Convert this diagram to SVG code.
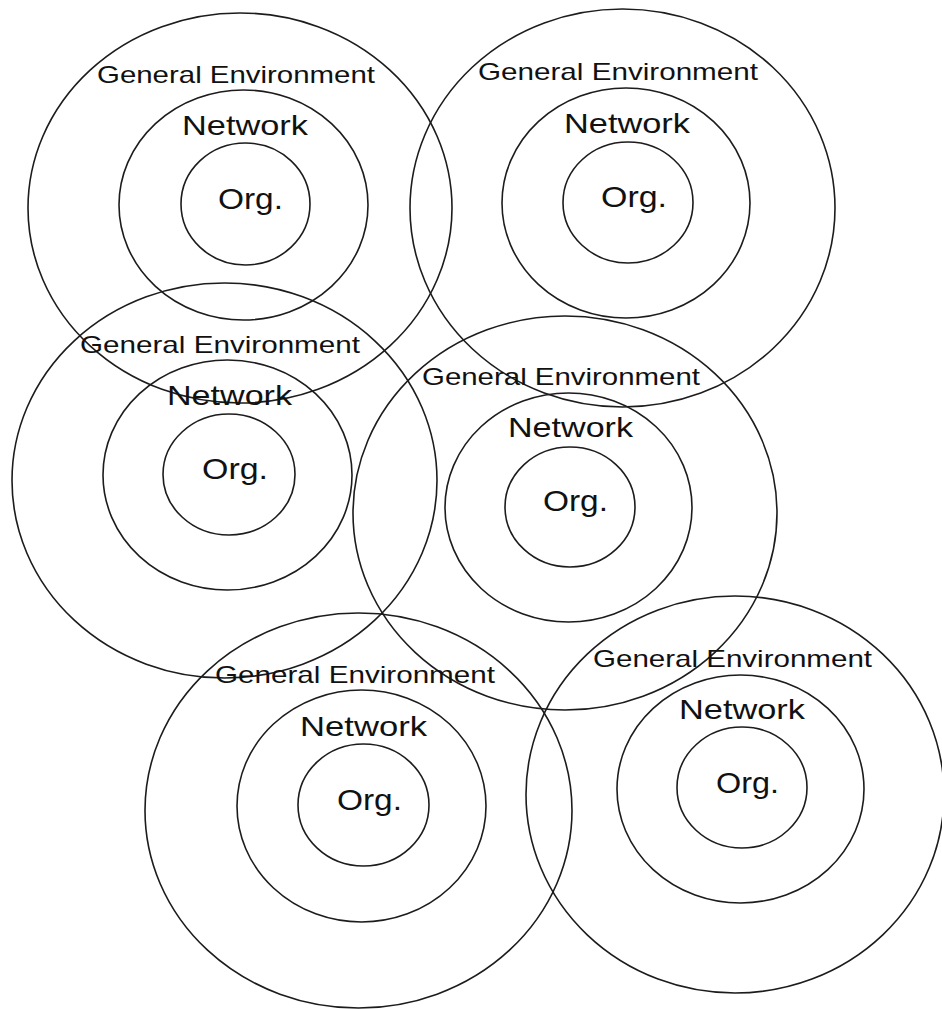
<svg xmlns="http://www.w3.org/2000/svg" width="942" height="1009" viewBox="0 0 942 1009">
<style>
  .ring { fill: none; stroke: #1c1c1c; stroke-width: 1.6; }
  .ge { font-family: "Liberation Sans", Arial, sans-serif; font-size: 24px; fill: #111; }
  .net { font-family: "Liberation Sans", Arial, sans-serif; font-size: 28px; fill: #111; }
  .org { font-family: "Liberation Sans", Arial, sans-serif; font-size: 30px; fill: #111; }
</style>
<rect width="942" height="1009" fill="#ffffff"/>
<g id="node-1">
  <ellipse class="ring" cx="240" cy="208" rx="212" ry="195"/>
  <ellipse class="ring" cx="243.5" cy="205" rx="124.5" ry="115"/>
  <ellipse class="ring" cx="245.5" cy="204" rx="64.5" ry="61"/>
  <text class="ge" x="97" y="83" textLength="278" lengthAdjust="spacingAndGlyphs">General Environment</text>
  <text class="net" x="182" y="135" textLength="126" lengthAdjust="spacingAndGlyphs">Network</text>
  <text class="org" x="218" y="209" textLength="65" lengthAdjust="spacingAndGlyphs">Org.</text>
</g>
<g id="node-2">
  <ellipse class="ring" cx="622.5" cy="208" rx="212.5" ry="199"/>
  <ellipse class="ring" cx="626" cy="203" rx="124" ry="115"/>
  <ellipse class="ring" cx="628" cy="202.5" rx="65" ry="60.5"/>
  <text class="ge" x="478" y="80" textLength="280" lengthAdjust="spacingAndGlyphs">General Environment</text>
  <text class="net" x="564" y="133" textLength="126" lengthAdjust="spacingAndGlyphs">Network</text>
  <text class="org" x="601" y="207" textLength="66" lengthAdjust="spacingAndGlyphs">Org.</text>
</g>
<g id="node-3">
  <ellipse class="ring" cx="224.5" cy="480.5" rx="212.5" ry="197.5"/>
  <ellipse class="ring" cx="227.5" cy="475" rx="124.5" ry="115"/>
  <ellipse class="ring" cx="229" cy="474.5" rx="66" ry="60.5"/>
  <text class="ge" x="80" y="353" textLength="280" lengthAdjust="spacingAndGlyphs">General Environment</text>
  <text class="net" x="167" y="405" textLength="125" lengthAdjust="spacingAndGlyphs">Network</text>
  <text class="org" x="202" y="479" textLength="66" lengthAdjust="spacingAndGlyphs">Org.</text>
</g>
<g id="node-4">
  <ellipse class="ring" cx="565" cy="513" rx="212" ry="197"/>
  <ellipse class="ring" cx="568.5" cy="507.5" rx="123.5" ry="114.5"/>
  <ellipse class="ring" cx="570" cy="507" rx="65" ry="60"/>
  <text class="ge" x="422" y="385" textLength="278" lengthAdjust="spacingAndGlyphs">General Environment</text>
  <text class="net" x="508" y="437" textLength="125" lengthAdjust="spacingAndGlyphs">Network</text>
  <text class="org" x="543" y="511" textLength="65" lengthAdjust="spacingAndGlyphs">Org.</text>
</g>
<g id="node-5">
  <ellipse class="ring" cx="358.5" cy="810.5" rx="213.5" ry="197.5"/>
  <ellipse class="ring" cx="361.5" cy="806" rx="124.5" ry="116"/>
  <ellipse class="ring" cx="363.5" cy="805" rx="65.5" ry="61"/>
  <text class="ge" x="215" y="683" textLength="280" lengthAdjust="spacingAndGlyphs">General Environment</text>
  <text class="net" x="300" y="736" textLength="127" lengthAdjust="spacingAndGlyphs">Network</text>
  <text class="org" x="337" y="810" textLength="65" lengthAdjust="spacingAndGlyphs">Org.</text>
</g>
<g id="node-6">
  <ellipse class="ring" cx="735" cy="794.5" rx="209" ry="198.5"/>
  <ellipse class="ring" cx="740.5" cy="789" rx="123.5" ry="114"/>
  <ellipse class="ring" cx="742" cy="787.5" rx="65" ry="60.5"/>
  <text class="ge" x="593" y="667" textLength="279" lengthAdjust="spacingAndGlyphs">General Environment</text>
  <text class="net" x="679" y="719" textLength="126" lengthAdjust="spacingAndGlyphs">Network</text>
  <text class="org" x="716" y="793" textLength="63" lengthAdjust="spacingAndGlyphs">Org.</text>
</g>
<g id="connectors"></g>
</svg>
